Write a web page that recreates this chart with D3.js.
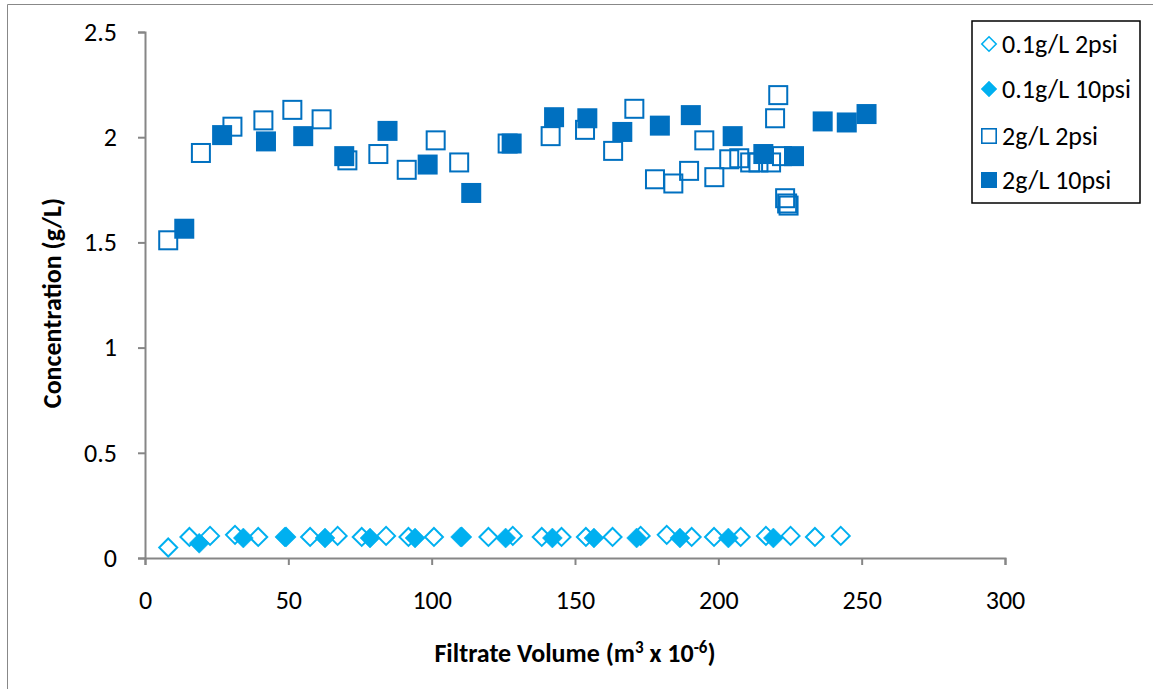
<!DOCTYPE html>
<html>
<head>
<meta charset="utf-8">
<script src="https://cdn.jsdelivr.net/npm/d3@7"></script>
<style>
  body { margin: 0; background: #fff; }
  svg { display: block; font-family: Carlito, Calibri, "Liberation Sans", sans-serif; }
</style>
</head>
<body>
<div id="chart"></div>
<script>
// Filtrate volume (m3 x 1e-6) vs concentration (g/L)
const d01_2psi_x = [8.1, 15.5, 22.7, 31.4, 39.5, 49.2, 57.6, 67.2, 75.6, 84.1, 91.9, 100.8, 110.5, 119.8,
  128.3, 138.4, 145.3, 153.8, 163.1, 172.9, 182.0, 190.7, 198.5, 207.8, 216.6, 225.2, 233.7, 242.7];
const d01_2psi_y = [0.05, 0.10, 0.105, 0.11, 0.10, 0.10, 0.10, 0.105, 0.10, 0.105, 0.10, 0.10, 0.10, 0.10,
  0.105, 0.10, 0.10, 0.10, 0.10, 0.105, 0.11, 0.10, 0.10, 0.10, 0.105, 0.105, 0.10, 0.105];

const d01_10psi_x = [18.9, 34.3, 48.8, 62.8, 78.5, 94.2, 110.1, 125.8, 142.1, 156.6, 171.5, 186.6, 203.5, 219.2];
const d01_10psi_y = [0.07, 0.095, 0.10, 0.095, 0.095, 0.095, 0.10, 0.095, 0.095, 0.095, 0.095, 0.095, 0.095, 0.095];

const d2_2psi_x = [8.1, 19.5, 30.5, 41.3, 51.4, 61.6, 70.6, 81.4, 91.3, 101.4, 109.6, 126.5, 141.5, 153.5,
  163.3, 170.7, 177.9, 184.3, 189.8, 195.1, 198.6, 203.8, 207.3, 211.1, 214.0, 218.4, 219.8, 220.9,
  222.2, 223.3, 224.5, 224.0];
const d2_2psi_y = [1.51, 1.925, 2.05, 2.08, 2.13, 2.085, 1.89, 1.92, 1.845, 1.985, 1.88, 1.97, 2.005, 2.035,
  1.935, 2.135, 1.80, 1.78, 1.84, 1.985, 1.81, 1.895, 1.90, 1.88, 1.88, 1.88, 2.09, 2.20,
  1.91, 1.71, 1.675, 1.685];

const d2_10psi_x = [13.7, 26.9, 42.2, 55.2, 69.5, 84.6, 98.6, 113.8, 127.9, 142.7, 154.3, 166.5, 179.6,
  190.4, 205.0, 215.7, 226.4, 236.4, 244.8, 251.7];
const d2_10psi_y = [1.565, 2.01, 1.98, 2.005, 1.91, 2.03, 1.87, 1.735, 1.97, 2.095, 2.09, 2.025, 2.055,
  2.105, 2.005, 1.92, 1.91, 2.075, 2.07, 2.11];

const xTicks = [0, 50, 100, 150, 200, 250, 300];
const yTicks = [0, 0.5, 1, 1.5, 2, 2.5];
const seriesNames = ['0.1g/L 2psi', '0.1g/L 10psi', '2g/L 2psi', '2g/L 10psi'];

const W = 1153, H = 689;
const margin = { left: 145, right: 148, top: 32, bottom: 131 };
const FS = 26;

const svg = d3.select('#chart').append('svg').attr('width', W).attr('height', H);

// outer frame (only top and left edges are visible in the picture)
svg.append('path')
  .attr('d', `M7.5,${H}V4.5H${W}`)
  .attr('fill', 'none').attr('stroke', '#888').attr('stroke-width', 1);

const x = d3.scaleLinear().domain([0, 300]).range([margin.left, W - margin.right]);
const y = d3.scaleLinear().domain([0, 2.5]).range([H - margin.bottom, margin.top]);

const axisColor = '#868686';

const gx = svg.append('g')
  .attr('transform', `translate(0,${y(0)})`)
  .call(d3.axisBottom(x).tickValues(xTicks).tickSize(7).tickPadding(26).tickFormat(d3.format('d')));
const gy = svg.append('g')
  .attr('transform', `translate(${x(0)},0)`)
  .call(d3.axisLeft(y).tickValues(yTicks).tickSize(7).tickPadding(21).tickFormat(d => String(d)));

[gx, gy].forEach(g => {
  g.select('.domain').attr('stroke', axisColor).attr('stroke-width', 2);
  g.selectAll('.tick line').attr('stroke', axisColor).attr('stroke-width', 2);
  g.selectAll('.tick text').attr('fill', '#000').attr('font-size', FS)
    .attr('font-family', 'Carlito, Calibri, "Liberation Sans", sans-serif');
});

// axis titles
const xt = svg.append('text')
  .attr('x', 575).attr('y', 662)
  .attr('text-anchor', 'middle')
  .attr('font-size', FS).attr('font-weight', 'bold');
xt.append('tspan').text('Filtrate Volume (m');
xt.append('tspan').attr('font-size', 17).attr('dy', -9).text('3');
xt.append('tspan').attr('dy', 9).text(' x 10');
xt.append('tspan').attr('font-size', 17).attr('dy', -9).text('-6');
xt.append('tspan').attr('dy', 9).text(')');

svg.append('text')
  .attr('transform', `translate(61,${(y(0) + y(2.5)) / 2 + 8}) rotate(-90)`)
  .attr('text-anchor', 'middle')
  .attr('font-size', FS).attr('font-weight', 'bold')
  .text('Concentration (g/L)');

// markers
const light = '#00B0F0', dark = '#0070C0';

function diamond(g, open) {
  const s = open ? 9 : 10;
  return g.append('path')
    .attr('d', `M0,${-s}L${s},0L0,${s}L${-s},0Z`)
    .attr('fill', open ? '#fff' : light)
    .attr('fill-opacity', open ? 0 : 1)
    .attr('stroke', light)
    .attr('stroke-width', open ? 2 : 0.5);
}
function square(g, open) {
  const s = open ? 9 : 10;
  return g.append('rect')
    .attr('x', -s).attr('y', -s).attr('width', 2 * s).attr('height', 2 * s)
    .attr('fill', open ? 'none' : dark)
    .attr('stroke', open ? dark : 'none')
    .attr('stroke-width', open ? 2 : 0);
}

const series = [
  { xs: d01_2psi_x, ys: d01_2psi_y, draw: g => diamond(g, true) },
  { xs: d01_10psi_x, ys: d01_10psi_y, draw: g => diamond(g, false) },
  { xs: d2_2psi_x, ys: d2_2psi_y, draw: g => square(g, true) },
  { xs: d2_10psi_x, ys: d2_10psi_y, draw: g => square(g, false) }
];

series.forEach(s => {
  const pts = s.xs.map((v, i) => [v, s.ys[i]]);
  svg.append('g').selectAll('g')
    .data(pts)
    .join('g')
    .attr('transform', d => `translate(${x(d[0])},${y(d[1])})`)
    .each(function() { s.draw(d3.select(this)); });
});

// legend
const lg = svg.append('g');
lg.append('rect')
  .attr('x', 972).attr('y', 21).attr('width', 168).attr('height', 182)
  .attr('fill', '#fff').attr('stroke', '#000').attr('stroke-width', 1.5);

const legendRows = [44, 89, 136, 180];
series.forEach((s, i) => {
  const row = lg.append('g').attr('transform', `translate(989,${legendRows[i]})`);
  const m = s.draw(row);
  m.attr('transform', 'scale(0.8)');
  row.append('text')
    .attr('x', 13).attr('y', 0).attr('dy', '0.35em')
    .attr('font-size', FS)
    .text(seriesNames[i]);
});
</script>
</body>
</html>
